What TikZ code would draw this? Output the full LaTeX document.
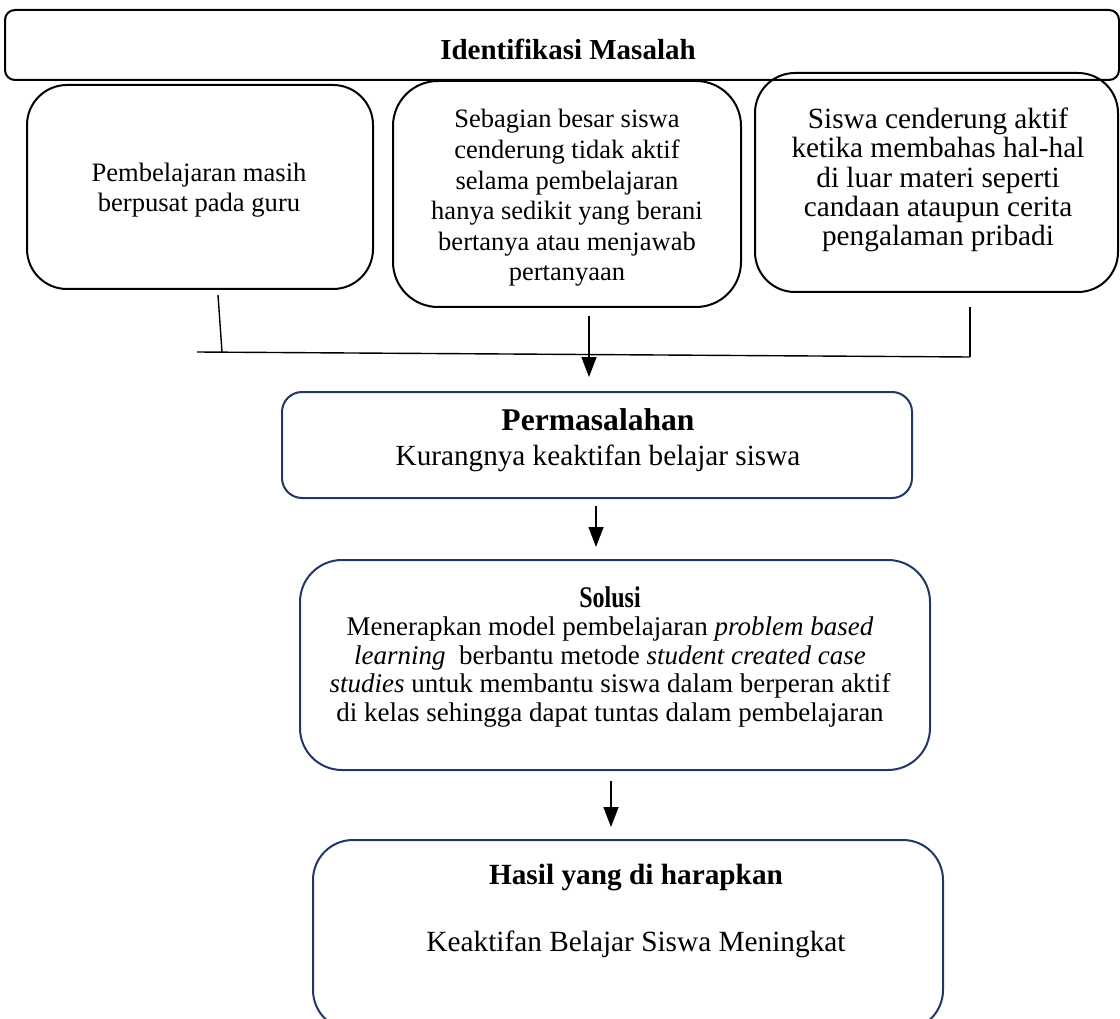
\documentclass[tikz,border=0pt]{standalone}
\usepackage{fontspec}
\setmainfont{Liberation Serif}
\usetikzlibrary{arrows.meta,calc}
\definecolor{navy}{HTML}{203864}
\begin{document}
\begin{tikzpicture}[x=1pt,y=-1pt,
  kbox/.style={draw=black,line width=2pt,rounded corners=#1,inner sep=0pt},
  nbox/.style={draw=navy,line width=2pt,rounded corners=#1,inner sep=0pt},
  txt/.style={align=center,inner sep=0pt},
  conn/.style={line width=1.4pt},
  arr/.style={line width=1.4pt,-{Triangle[width=15pt,length=20pt]}}]
\clip (0,0) rectangle (1120,1019);
\fill[white] (0,0) rectangle (1120,1019);

% boxes
\node[kbox=10pt,minimum width=1114pt,minimum height=70pt] (top) at (562,45) {};
\node[kbox=40pt,minimum width=346pt,minimum height=204pt] (b1) at (200,187) {};
\node[kbox=45pt,minimum width=348pt,minimum height=226pt] (b2) at (567,194) {};
\node[kbox=40pt,minimum width=363pt,minimum height=219pt] (b3) at (936.5,182.5) {};
\node[nbox=20pt,minimum width=630pt,minimum height=106pt] (perm) at (597,445) {};
\node[nbox=42pt,minimum width=630pt,minimum height=210pt] (sol) at (615,665) {};
\node[nbox=40pt,minimum width=630pt,minimum height=190pt] (hasil) at (628,935) {};

% texts
\node[txt,font=\bfseries\fontsize{29}{33}\selectfont] (ttop) at (568,49) {Identifikasi Masalah};
\node[txt,font=\fontsize{26.6}{30}\selectfont] (t1) at (199,190) {Pembelajaran masih\\berpusat pada guru};
\node[txt,font=\fontsize{26.5}{30.6}\selectfont] (t2) at (567,198) {Sebagian besar siswa\\cenderung tidak aktif\\selama pembelajaran\\hanya sedikit yang berani\\bertanya atau menjawab\\pertanyaan};
\node[txt,font=\fontsize{29.3}{29.3}\selectfont] (t3) at (938,180) {Siswa cenderung aktif\\ketika membahas hal-hal\\di luar materi seperti\\candaan ataupun cerita\\pengalaman pribadi};
\node[txt,font=\fontsize{29.2}{35}\selectfont] (tperm) at (598,440) {{\bfseries\fontsize{31.6}{35}\selectfont Permasalahan}\\Kurangnya keaktifan belajar siswa};
\node[txt,font=\fontsize{27}{28.5}\selectfont] (tsol) at (610,657) {\scalebox{0.8}[1]{\bfseries\fontsize{30}{30}\selectfont Solusi}\\Menerapkan model pembelajaran \textit{problem based}\\\textit{learning}\ \ berbantu metode \textit{student created case}\\\textit{studies} untuk membantu siswa dalam berperan aktif\\di kelas sehingga dapat tuntas dalam pembelajaran};
\node[txt,font=\fontsize{29.3}{67}\selectfont] (thasil) at (636,911) {{\bfseries Hasil yang di harapkan}\\Keaktifan Belajar Siswa Meningkat};

% connectors
\coordinate (busL) at (197,352);
\coordinate (busR) at (970,357);
\coordinate (j1) at (222,352);
\draw[conn] ($(b1.south)+(18,5)$) -- (j1);
\draw[conn] ($(b3.south)+(33.5,14)$) -- (busR);
\draw[conn] (busL) -- (busR);
\draw[arr] ($(b2.south)+(22,8)$) -- ($(perm.north)+(-8,-14)$);
\draw[arr] ($(perm.south)+(-1,7)$) -- ($(sol.north)+(-19,-12)$);
\draw[arr] ($(sol.south)+(-4,10)$) -- ($(hasil.north)+(-17,-12)$);
\end{tikzpicture}
\end{document}
